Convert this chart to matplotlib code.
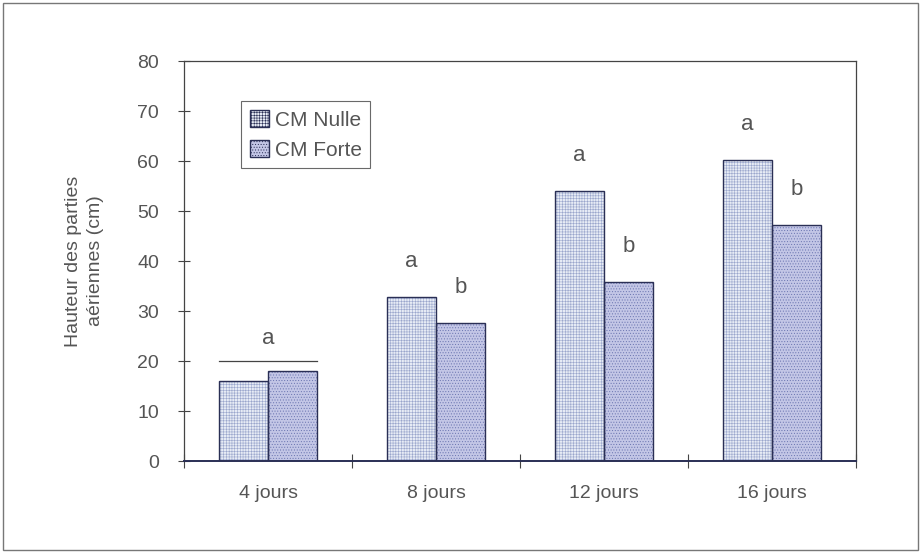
import numpy as np
import matplotlib.pyplot as plt
from matplotlib.patches import Rectangle

categories = ["4 jours", "8 jours", "12 jours", "16 jours"]
cm_nulle = [16.0, 32.8, 54.0, 60.2]
cm_forte = [18.0, 27.6, 35.8, 47.2]
letters_nulle = ["", "a", "a", "a"]
letters_forte = ["", "b", "b", "b"]
y_ticks = [0, 10, 20, 30, 40, 50, 60, 70, 80]

TXT = "#555555"
EDGE = "#2a2f55"

plt.rcParams["font.family"] = ["Liberation Sans", "DejaVu Sans"]
plt.rcParams["hatch.linewidth"] = 0.4

fig = plt.figure(figsize=(9.21, 5.55), dpi=100)
ax = fig.add_axes([184 / 921, 1 - 461 / 555, 672 / 921, 400 / 555])

x = np.arange(len(categories))
w = 0.29
# fill + fine hatch in a soft colour, then the dark outline on top
ax.bar(x - w / 2, cm_nulle, w, color="#e6ebf5", edgecolor="#9aa6cc", linewidth=0,
       hatch="++++++")
ax.bar(x + w / 2, cm_forte, w, color="#c3c6e6", edgecolor="#6a74b0", linewidth=0,
       hatch="......")
ax.bar(x - w / 2, cm_nulle, w, fill=False, edgecolor=EDGE, linewidth=1.0)
ax.bar(x + w / 2, cm_forte, w, fill=False, edgecolor=EDGE, linewidth=1.0)

# significance letters
for i in range(len(categories)):
    if letters_nulle[i]:
        ax.text(x[i] - w / 2, cm_nulle[i] + 5, letters_nulle[i], ha="center",
                va="bottom", fontsize=16, color=TXT)
        ax.text(x[i] + w / 2, cm_forte[i] + 5, letters_forte[i], ha="center",
                va="bottom", fontsize=16, color=TXT)
# first group: same letter for both
ax.plot([x[0] - w, x[0] + w], [20, 20], color="#444444", lw=0.9)
ax.text(x[0], 22.5, "a", ha="center", va="bottom", fontsize=16, color=TXT)

ax.set_xlim(-0.5, len(categories) - 0.5)
ax.set_ylim(0, 80)
ax.set_yticks(y_ticks)
ax.set_yticklabels([str(v) for v in y_ticks])
ax.set_xticks(np.arange(len(categories) + 1) - 0.5)
ax.set_xticklabels([])
ax.set_xticks(x, minor=True)
ax.set_xticklabels(categories, minor=True)
ax.tick_params(axis="x", which="minor", length=0, pad=17, labelsize=14, labelcolor=TXT)
ax.tick_params(axis="x", which="major", direction="inout", length=10, color="#444444")
ax.tick_params(axis="y", direction="inout", length=8, labelsize=14, labelcolor=TXT,
               color="#444444", pad=14)
for s in ax.spines.values():
    s.set_color("#444444")
    s.set_linewidth(0.9)
ax.spines["bottom"].set_color(EDGE)
ax.spines["bottom"].set_linewidth(1.4)

ax.set_ylabel("Hauteur des parties\naériennes (cm)", fontsize=14, color=TXT,
              labelpad=24, linespacing=1.35)

fake_n = Rectangle((0, 0), 1, 1, facecolor="#e6ebf5", edgecolor=EDGE, hatch="++++++", lw=1.0)
fake_f = Rectangle((0, 0), 1, 1, facecolor="#c3c6e6", edgecolor=EDGE, hatch="......", lw=1.0)
leg = ax.legend([fake_n, fake_f], ["CM Nulle", "CM Forte"], loc="upper left",
                bbox_to_anchor=(0.07, 0.925), fontsize=15, frameon=True,
                fancybox=False, handlelength=0.9, handleheight=0.9,
                handletextpad=0.3, borderpad=0.4, labelspacing=0.5)
leg.get_frame().set_edgecolor("#444444")
leg.get_frame().set_linewidth(0.8)
for t in leg.get_texts():
    t.set_color(TXT)

# outer frame around the figure
fig.patches.append(Rectangle((3 / 921, 5 / 555), 915 / 921, 547 / 555,
                             transform=fig.transFigure, fill=False,
                             edgecolor="#777777", linewidth=1.0))

fig.savefig("out.png", dpi=100)
